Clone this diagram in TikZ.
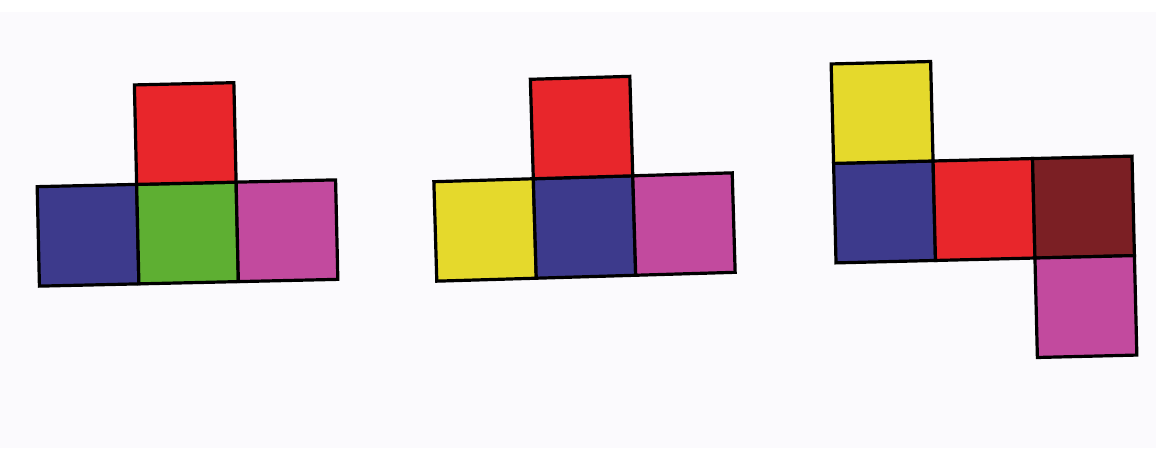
\documentclass[tikz,border=0pt]{standalone}
\definecolor{cred}{HTML}{E8262B}
\definecolor{cgreen}{HTML}{5EAF32}
\definecolor{cblue}{HTML}{3D3A8C}
\definecolor{cpink}{HTML}{C24A9E}
\definecolor{cyellow}{HTML}{E5D92C}
\definecolor{cbrown}{HTML}{7B1F24}
\definecolor{paper}{HTML}{FBFAFD}
\begin{document}
\begin{tikzpicture}[x=1pt,y=-1pt,
  face/.style={draw=black,line width=3.2pt,minimum width=99.5pt,minimum height=99.5pt,inner sep=0pt,outer sep=0pt,line join=miter}]
\useasboundingbox (0,0) rectangle (1156,448);
\fill[paper] (0,12) rectangle (1156,448);
% net 1
\begin{scope}[shift={(187.5,233)},rotate=1.3,transform shape]
\node[face,fill=cblue]  (a1) at (-99.5,0) {};
\node[face,fill=cgreen] (a2) at (0,0) {};
\node[face,fill=cpink]  (a3) at (99.5,0) {};
\node[face,fill=cred]   (a4) at (0,-99.5) {};
\end{scope}
% net 2
\begin{scope}[shift={(584.5,227)},rotate=1.7,transform shape]
\node[face,fill=cyellow] (b1) at (-99.5,0) {};
\node[face,fill=cblue]   (b2) at (0,0) {};
\node[face,fill=cpink]   (b3) at (99.5,0) {};
\node[face,fill=cred]    (b4) at (0,-99.5) {};
\end{scope}
% net 3
\begin{scope}[shift={(984,209.5)},rotate=1.4,transform shape]
\node[face,fill=cblue]   (c2) at (-99.5,0) {};
\node[face,fill=cred]    (c3) at (0,0) {};
\node[face,fill=cbrown]  (c4) at (99.5,0) {};
\node[face,fill=cyellow] (c1) at (-99.5,-99.5) {};
\node[face,fill=cpink]   (c5) at (99.5,99.5) {};
\end{scope}
\end{tikzpicture}
\end{document}
